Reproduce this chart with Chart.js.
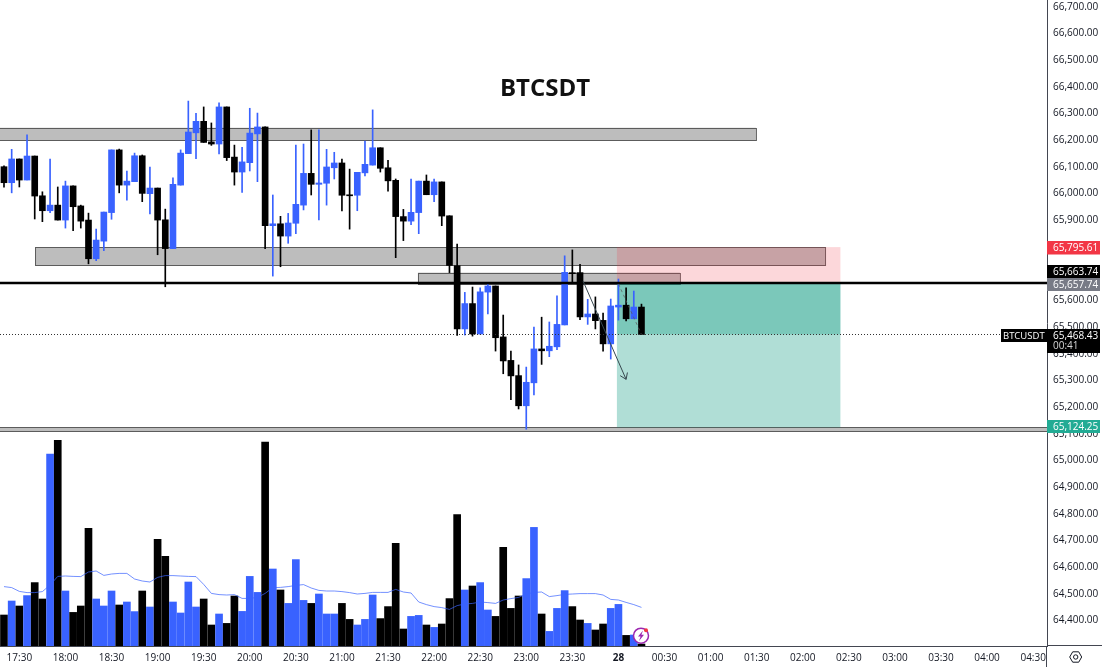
<!DOCTYPE html>
<html>
<head>
<meta charset="utf-8">
<title>BTCSDT</title>
<script src="https://cdn.jsdelivr.net/npm/chart.js@4/dist/chart.umd.min.js"></script>
<style>
  html, body { margin: 0; padding: 0; background: #fff; }
  canvas { display: block; }
</style>
</head>
<body>
<canvas id="chart" width="1102" height="667"></canvas>
<script>
// 5 minute candles
const opens = [66097,66037,66126,66047,66137,65988,65932,65953,65897,66025,65950,65897,65752,65818,65925,66160,66028,66041,66138,65996,66017,65898,65790,66028,66146,66224,66267,66190,66182,66321,66133,66077,66112,66220,66246,65876,65883,65837,65885,65953,66072,66031,66035,66093,66111,65991,65990,66074,66103,66168,66093,66046,65910,65893,65925,66043,65992,66040,65913,65726,65489,65584,65470,65627,65650,65459,65371,65314,65201,65287,65414,65407,65422,65504,65699,65700,65534,65545,65521,65433,65571,65578,65527,65571];
const highs = [66100,66162,66126,66216,66137,66003,66126,66021,66043,66025,65953,65923,65863,65927,66160,66163,66081,66148,66141,66096,66017,65938,66055,66160,66343,66297,66321,66261,66336,66321,66178,66170,66316,66298,66246,65991,65911,65922,66178,66182,66235,66235,66162,66151,66126,66088,66076,66193,66310,66168,66121,66051,65937,66051,66043,66066,66051,66040,65913,65807,65626,65646,65643,65664,65650,65541,65406,65354,65346,65496,65533,65515,65613,65763,65785,65731,65600,65609,65548,65601,65676,65643,65631,65582];
const lows = [66020,65999,66021,66047,65901,65891,65925,65897,65867,65857,65867,65733,65745,65782,65900,65999,65972,66041,65966,65920,65767,65647,65790,66028,66146,66127,66188,66177,66145,66120,66028,66001,66081,66041,65790,65687,65722,65810,65846,65935,65991,65898,65953,66051,65931,65863,65932,66062,66103,66077,66005,65756,65820,65880,65846,65992,65966,65876,65700,65465,65466,65462,65470,65545,65406,65321,65224,65189,65113,65242,65356,65385,65411,65504,65666,65524,65506,65489,65406,65376,65522,65519,65527,65468];
const closes = [66037,66126,66047,66137,65987,65932,65953,65897,66025,65947,65893,65752,65822,65927,66160,66028,66043,66138,65997,66017,65897,65790,66031,66148,66227,66267,66188,66182,66321,66131,66077,66115,66223,66246,65876,65883,65837,65886,65956,66072,66031,66036,66096,66111,65990,65988,66076,66106,66168,66091,66044,65910,65893,65926,66043,65992,66040,65912,65727,65489,65584,65470,65628,65650,65456,65369,65313,65201,65289,65414,65407,65424,65506,65701,65696,65534,65545,65520,65433,65575,65578,65527,65571,65468];
const volumes = [155,225,200,252,317,235,960,1028,275,168,200,588,235,200,275,205,220,172,275,195,533,448,220,165,320,195,235,105,160,113,250,173,348,268,1020,385,280,213,432,228,213,260,160,160,213,133,105,133,255,137,197,513,85,148,153,105,93,110,237,657,280,300,317,180,148,493,188,250,337,593,160,73,188,277,197,130,113,80,110,188,208,53,55,10];
const volumeAvg = [297,292,273,267,267,272,305,348,350,348,347,370,375,353,360,363,363,335,325,320,343,352,352,350,348,347,308,263,257,255,257,238,238,243,263,292,293,297,303,307,290,278,275,275,272,267,260,263,268,268,268,283,270,265,220,207,197,192,183,202,210,213,220,217,213,230,237,243,260,268,270,247,252,258,260,262,262,262,255,233,230,218,207,193];

// x axis labels, one every 6 candles starting at candle 2
const timeLabels = ['17:30','18:00','18:30','19:00','19:30','20:00','20:30','21:00','21:30','22:00','22:30','23:00','23:30','28','00:30','01:00','01:30','02:00','02:30','03:00','03:30','04:00','04:30'];

// drawn zones: [from candle, to candle, top price, bottom price]
const grayZones = [
  [-1, 97.9, 66243, 66197],
  [4.04, 106.9, 65796, 65727],
  [53.9, 88, 65700, 65660],
  [-1, 137, 65120, 65104]
];
const positionFrom = 79.8, positionTo = 108.9;
const stopPrice = 65795.61, linePrice = 65663.74, entryPrice = 65657.74, lastPrice = 65468.43, targetPrice = 65124.25;
const arrowLine = [75.4, 65668, 81, 65300];
const statsLine = [80, 65657.74, 83, 65468.43];

const BLUE = '#3962ff', BLACK = '#000000';
const FONT = '"Open Sans"';
const xMin = -0.52, xMax = 135.8;
const priceMin = 64300.6, priceMax = 66721.8;

const upDown = (i) => closes[i] >= opens[i] ? BLUE : BLACK;
const money = (v) => v.toLocaleString('en-US', { minimumFractionDigits: 2, maximumFractionDigits: 2 });

const bodyData = opens.map((o, i) => ({ x: i, y: [o, closes[i]] }));
const wickData = lows.map((l, i) => ({ x: i, y: [l, highs[i]] }));
const volumeData = volumes.map((v, i) => ({ x: i, y: v }));
const avgData = volumeAvg.map((v, i) => ({ x: i, y: v }));
const tickIdx = timeLabels.map((t, i) => 2 + i * 6);

// price tags on the right hand axis
function tag(ctx, text, y, h, bg) {
  ctx.fillStyle = bg;
  ctx.fillRect(1047, y, 53, h);
  ctx.fillStyle = '#ffffff';
  ctx.font = '10px ' + FONT;
  ctx.textAlign = 'left';
  ctx.textBaseline = 'middle';
  ctx.fillText(text, 1053, y + 6.8);
}

const zonesBehind = {
  id: 'zonesBehind',
  beforeDatasetsDraw(chart) {
    const { ctx, scales: { x, y } } = chart;
    ctx.save();
    grayZones.forEach(z => {
      const l = x.getPixelForValue(z[0]), r = x.getPixelForValue(z[1]);
      const t = y.getPixelForValue(z[2]), b = y.getPixelForValue(z[3]);
      ctx.fillStyle = '#bdbdbd';
      ctx.fillRect(l, t, r - l, b - t);
      ctx.strokeStyle = '#5c5c5c';
      ctx.lineWidth = 1;
      ctx.strokeRect(l + 0.5, Math.round(t) + 0.5, r - l, Math.round(b - t));
    });

    // long/short position tool, the candles stay on top of it
    const l = x.getPixelForValue(positionFrom), r = x.getPixelForValue(positionTo);
    const yStop = y.getPixelForValue(stopPrice), yEntry = y.getPixelForValue(entryPrice);
    const yLast = y.getPixelForValue(lastPrice), yBottom = y.getPixelForValue(grayZones[3][2]);
    ctx.fillStyle = 'rgba(242,54,69,0.2)';
    ctx.fillRect(l, yStop, r - l, yEntry - yStop);
    ctx.fillStyle = 'rgba(8,153,129,0.32)';
    ctx.fillRect(l, yEntry, r - l, yBottom - yEntry);
    ctx.fillRect(l, yEntry, r - l, yLast - yEntry);
    ctx.restore();
  }
};

const overlays = {
  id: 'overlays',
  afterDatasetsDraw(chart) {
    const { ctx, chartArea, scales: { x, y } } = chart;
    const yLast = y.getPixelForValue(lastPrice);
    ctx.save();

    // black level line
    const yLine = Math.round(y.getPixelForValue(linePrice)) + 1;
    ctx.strokeStyle = '#000000';
    ctx.lineWidth = 2.6;
    ctx.beginPath();
    ctx.moveTo(chartArea.left, yLine);
    ctx.lineTo(chartArea.right, yLine);
    ctx.stroke();

    // last price dotted line
    ctx.strokeStyle = '#333333';
    ctx.lineWidth = 1;
    ctx.setLineDash([1, 2]);
    ctx.beginPath();
    ctx.moveTo(chartArea.left, Math.round(yLast) + 0.5);
    ctx.lineTo(1001, Math.round(yLast) + 0.5);
    ctx.stroke();

    // dashed line inside the position
    ctx.strokeStyle = 'rgba(90,90,90,0.7)';
    ctx.setLineDash([3, 3]);
    ctx.beginPath();
    ctx.moveTo(x.getPixelForValue(statsLine[0]), y.getPixelForValue(statsLine[1]));
    ctx.lineTo(x.getPixelForValue(statsLine[2]), y.getPixelForValue(statsLine[3]));
    ctx.stroke();
    ctx.setLineDash([]);

    // hand drawn arrow
    const ax = x.getPixelForValue(arrowLine[0]), ay = y.getPixelForValue(arrowLine[1]);
    const bx = x.getPixelForValue(arrowLine[2]), by = y.getPixelForValue(arrowLine[3]);
    const ang = Math.atan2(by - ay, bx - ax);
    ctx.strokeStyle = '#37474f';
    ctx.beginPath();
    ctx.moveTo(ax, ay);
    ctx.lineTo(bx, by);
    ctx.moveTo(bx - 7 * Math.cos(ang - 0.6), by - 7 * Math.sin(ang - 0.6));
    ctx.lineTo(bx, by);
    ctx.lineTo(bx - 7 * Math.cos(ang + 0.6), by - 7 * Math.sin(ang + 0.6));
    ctx.stroke();

    // title
    ctx.fillStyle = '#111111';
    ctx.font = 'bold 24px ' + FONT;
    ctx.textAlign = 'center';
    ctx.textBaseline = 'middle';
    ctx.fillText('BTCSDT', 545, 89);

    // lightning icon
    ctx.fillStyle = '#ffffff';
    ctx.strokeStyle = '#9c27b0';
    ctx.lineWidth = 1.5;
    ctx.beginPath();
    ctx.arc(641, 635.7, 7.5, 0, Math.PI * 2);
    ctx.fill();
    ctx.stroke();
    ctx.fillStyle = '#9c27b0';
    ctx.beginPath();
    ctx.moveTo(643, 630.5); ctx.lineTo(638, 636.5); ctx.lineTo(640.6, 636.5);
    ctx.lineTo(639, 641); ctx.lineTo(644, 634.8); ctx.lineTo(641.4, 634.8);
    ctx.closePath();
    ctx.fill();
    ctx.fillStyle = '#f23645';
    ctx.beginPath();
    ctx.arc(646, 630.3, 2, 0, Math.PI * 2);
    ctx.fill();
    ctx.restore();
  },
  afterDraw(chart) {
    const { ctx } = chart;
    ctx.save();

    // axis lines run on to the edges of the page
    ctx.strokeStyle = '#434651';
    ctx.lineWidth = 1;
    ctx.beginPath();
    ctx.moveTo(1046.5, 646); ctx.lineTo(1046.5, 667);
    ctx.moveTo(1047, 645.5); ctx.lineTo(1102, 645.5);
    ctx.stroke();

    tag(ctx, money(stopPrice), 241, 13.5, '#f23645');
    tag(ctx, money(linePrice), 265, 13, '#000000');
    tag(ctx, money(entryPrice), 278, 13, '#787b86');
    tag(ctx, money(lastPrice), 329, 24, '#000000');
    ctx.fillStyle = '#d6d6d6';
    ctx.fillText('00:41', 1053, 346);
    tag(ctx, money(targetPrice), 420, 13, '#22ab94');

    ctx.fillStyle = '#000000';
    ctx.fillRect(1001, 329, 46, 13);
    ctx.fillStyle = '#ffffff';
    ctx.font = '9.5px ' + FONT;
    ctx.fillText('BTCUSDT', 1003, 335.8);

    // settings icon
    const cx = 1075.7, cy = 657;
    ctx.strokeStyle = '#131722';
    ctx.beginPath();
    for (let i = 0; i < 6; i++) {
      const a = i * Math.PI / 3;
      ctx.lineTo(cx + 6 * Math.cos(a), cy + 6 * Math.sin(a));
    }
    ctx.closePath();
    ctx.moveTo(cx + 2.2, cy);
    ctx.arc(cx, cy, 2.2, 0, Math.PI * 2);
    ctx.stroke();
    ctx.restore();
  }
};

new Chart(document.getElementById('chart'), {
  data: {
    datasets: [
      { type: 'line', data: avgData, yAxisID: 'vol', borderColor: 'rgba(57,98,255,0.7)', borderWidth: 1, pointRadius: 0, tension: 0, order: 0 },
      { type: 'bar', data: volumeData, yAxisID: 'vol', backgroundColor: volumes.map((v, i) => upDown(i)), barThickness: 7, grouped: false, order: 3 },
      { type: 'bar', data: bodyData, yAxisID: 'y', backgroundColor: opens.map((v, i) => upDown(i)), barThickness: 6, minBarLength: 1, grouped: false, order: 1 },
      { type: 'bar', data: wickData, yAxisID: 'y', backgroundColor: opens.map((v, i) => upDown(i)), barThickness: 1, grouped: false, order: 2 }
    ]
  },
  options: {
    responsive: false,
    animation: false,
    devicePixelRatio: 1,
    layout: { padding: 0 },
    plugins: { legend: { display: false }, tooltip: { enabled: false }, title: { display: false } },
    scales: {
      x: {
        type: 'linear',
        offset: false,
        min: xMin,
        max: xMax,
        grid: { display: false, drawTicks: false },
        border: { color: '#434651', width: 1 },
        afterBuildTicks: (axis) => { axis.ticks = tickIdx.map(v => ({ value: v })); },
        afterFit: (axis) => { axis.height = 21; axis.paddingLeft = 0; axis.paddingRight = 0; },
        ticks: {
          autoSkip: false,
          maxRotation: 0,
          padding: 6,
          color: '#131722',
          font: (c) => ({ family: FONT, size: 10, weight: timeLabels[c.index] === '28' ? 'bold' : 'normal' }),
          callback: (v) => timeLabels[tickIdx.indexOf(v)]
        }
      },
      y: {
        position: 'right',
        min: priceMin,
        max: priceMax,
        grid: { display: false, drawTicks: false },
        border: { color: '#434651', width: 1 },
        afterFit: (axis) => { axis.width = 55; axis.paddingTop = 0; axis.paddingBottom = 0; },
        ticks: {
          stepSize: 100,
          includeBounds: false,
          padding: 6,
          labelOffset: 1,
          color: '#131722',
          font: { family: FONT, size: 10 },
          callback: (v) => money(v)
        }
      },
      vol: { display: false, min: 0, max: 3230 }
    }
  },
  plugins: [zonesBehind, overlays]
});
</script>
</body>
</html>
